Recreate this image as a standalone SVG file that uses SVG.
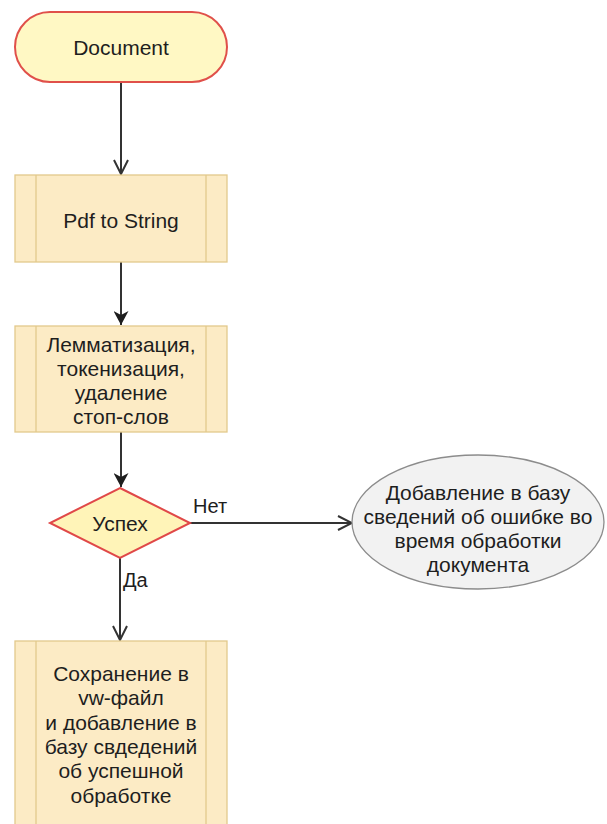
<svg xmlns="http://www.w3.org/2000/svg" width="607" height="824" viewBox="0 0 607 824">
  <style>
    text { font-family: "Liberation Sans", Arial, sans-serif; font-size: 21px; fill: #1e1e1e; text-anchor: middle; }
    .lbl { text-anchor: start; font-size: 20px; }
    .proc { fill: #fcebc5; stroke: #e2c98c; stroke-width: 1.3; }
    .edge { fill: none; stroke: #333333; stroke-width: 2; }
  </style>
  <defs>
    <marker id="open" viewBox="0 0 16 16" refX="15" refY="8" markerWidth="16" markerHeight="16" markerUnits="userSpaceOnUse" orient="auto">
      <path d="M1,1 L15,8 L1,15" fill="none" stroke="#333333" stroke-width="2"/>
    </marker>
    <marker id="solid" viewBox="0 0 15 15" refX="14" refY="7.5" markerWidth="15" markerHeight="15" markerUnits="userSpaceOnUse" orient="auto">
      <path d="M0,0 L14,7.5 L0,15 L4,7.5 Z" fill="#1e1e1e"/>
    </marker>
  </defs>
  <rect width="607" height="824" fill="#ffffff"/>

  <!-- connectors -->
  <g id="edges">
    <line class="edge" x1="121" y1="82" x2="121" y2="174" marker-end="url(#open)"/>
    <line class="edge" x1="121" y1="262" x2="121" y2="325" marker-end="url(#solid)"/>
    <line class="edge" x1="121" y1="432" x2="121" y2="487" marker-end="url(#solid)"/>
    <line class="edge" x1="190" y1="523" x2="352" y2="523" marker-end="url(#open)"/>
    <line class="edge" x1="120" y1="558" x2="120" y2="640" marker-end="url(#open)"/>
    <text class="lbl" x="193" y="513">Нет</text>
    <text class="lbl" x="123" y="587">Да</text>
  </g>

  <g id="document">
    <rect x="15" y="12" width="212" height="70" rx="35" ry="35" fill="#fff8c4" stroke="#e0504a" stroke-width="2"/>
    <text x="121" y="55">Document</text>
  </g>

  <g id="pdf-to-string">
    <rect class="proc" x="15" y="175" width="212" height="87"/>
    <line class="proc" x1="36" y1="175" x2="36" y2="262"/>
    <line class="proc" x1="206" y1="175" x2="206" y2="262"/>
    <text x="121" y="228">Pdf to String</text>
  </g>

  <g id="preprocess">
    <rect class="proc" x="15" y="326" width="212" height="106"/>
    <line class="proc" x1="36" y1="326" x2="36" y2="432"/>
    <line class="proc" x1="206" y1="326" x2="206" y2="432"/>
    <text x="121" y="352">Лемматизация,</text>
    <text x="121" y="376">токенизация,</text>
    <text x="121" y="400">удаление</text>
    <text x="121" y="424">стоп-слов</text>
  </g>

  <g id="success-check">
    <polygon points="120,488 190,523 120,558 50,523" fill="#fff4b8" stroke="#e04848" stroke-width="2"/>
    <text x="120" y="531">Успех</text>
  </g>

  <g id="error-record">
    <ellipse cx="478" cy="522" rx="126" ry="67" fill="#f2f2f2" stroke="#8c8c8c" stroke-width="1.3"/>
    <text x="478" y="500">Добавление в базу</text>
    <text x="478" y="524">сведений об ошибке во</text>
    <text x="478" y="548">время обработки</text>
    <text x="478" y="572">документа</text>
  </g>

  <g id="save-result">
    <rect class="proc" x="15" y="641" width="212" height="200"/>
    <line class="proc" x1="36" y1="641" x2="36" y2="824"/>
    <line class="proc" x1="206" y1="641" x2="206" y2="824"/>
    <text x="121" y="681">Сохранение в</text>
    <text x="121" y="705">vw-файл</text>
    <text x="121" y="730">и добавление в</text>
    <text x="121" y="754">базу свдедений</text>
    <text x="121" y="778">об успешной</text>
    <text x="121" y="803">обработке</text>
  </g>
</svg>
